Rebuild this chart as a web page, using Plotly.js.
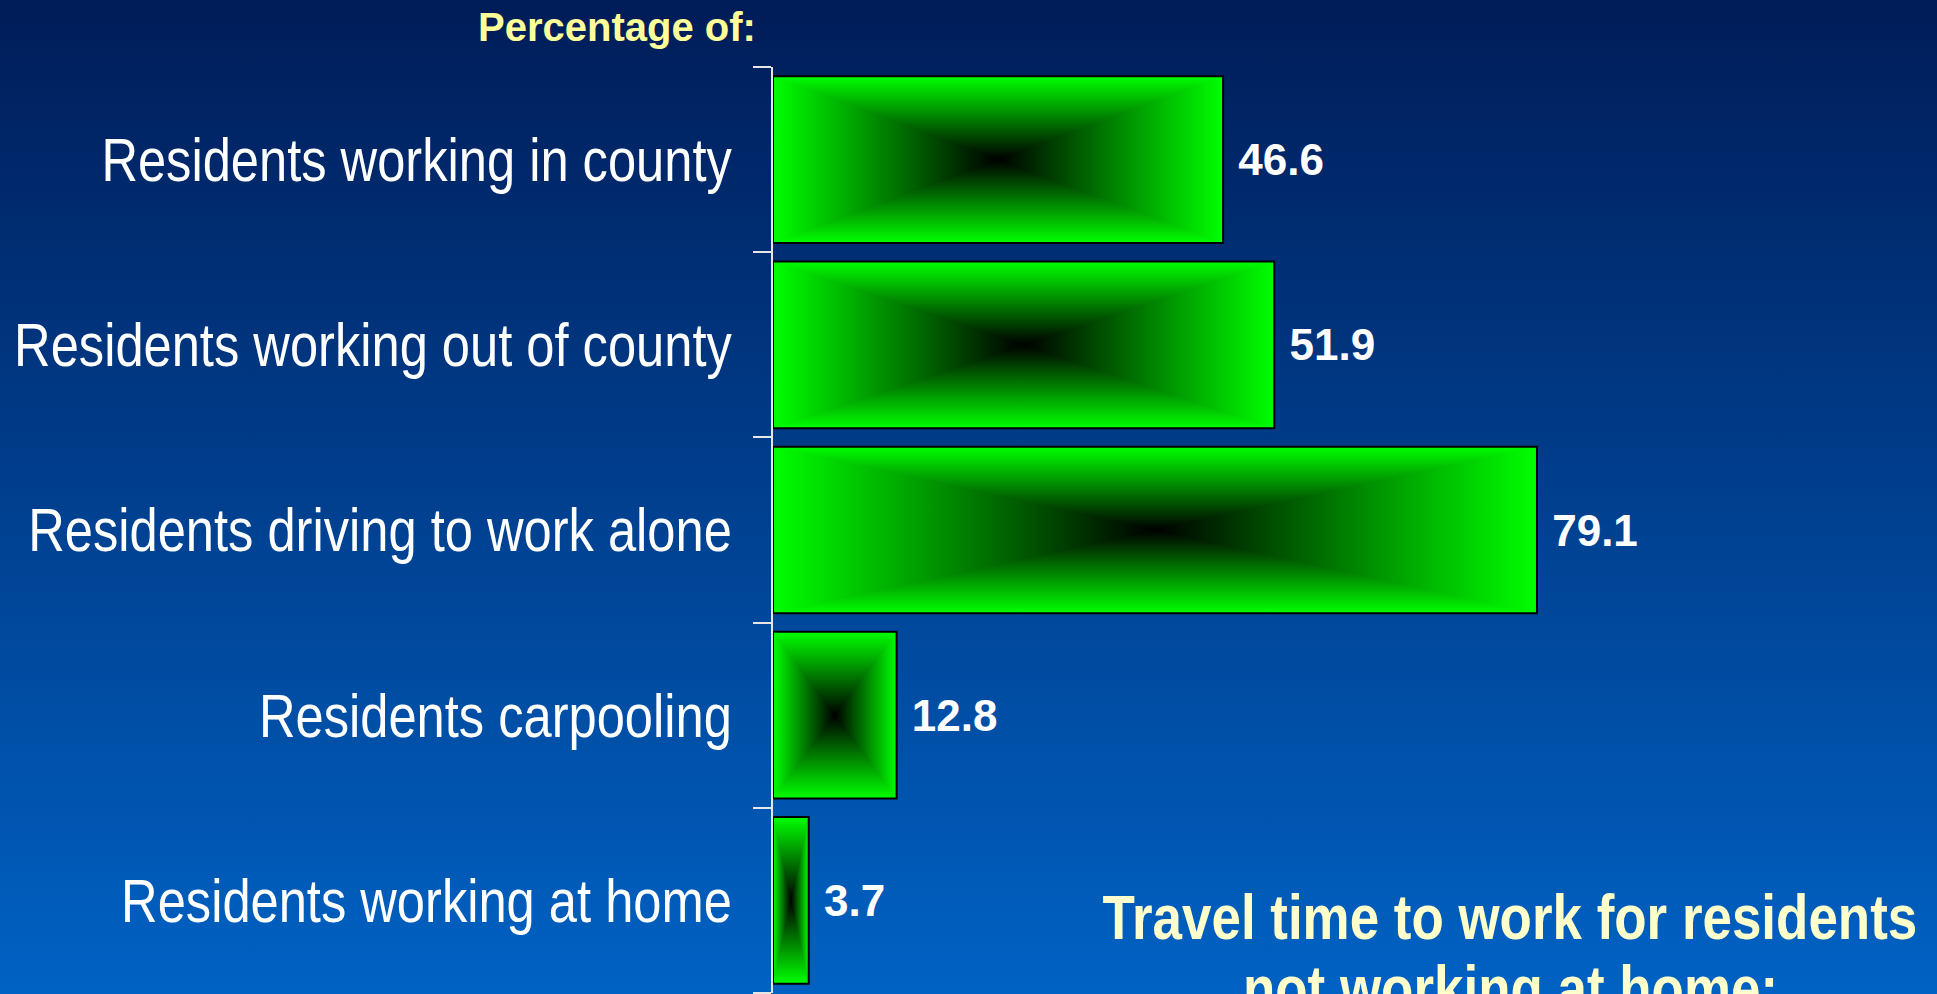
<!DOCTYPE html>
<html>
<head>
<meta charset="utf-8">
<script src="https://cdn.plot.ly/plotly-3.0.1.min.js"></script>
<style>
  html, body { margin: 0; padding: 0; }
  body { width: 1937px; height: 994px; overflow: hidden;
         background: linear-gradient(to bottom, #001c58 0%, #0062c4 100%); }
  #chart { width: 1937px; height: 994px; }
</style>
</head>
<body>
<div id="chart"></div>
<script>
// ---- data ----
const categories = [
  'Residents working in county',
  'Residents working out of county',
  'Residents driving to work alone',
  'Residents carpooling',
  'Residents working at home'
];
const values = [46.6, 51.9, 79.1, 12.8, 3.7];
const headerText = 'Percentage of:';
const footerLines = ['Travel time to work for residents', 'not working at home:'];

// ---- style params ----
const barWidth = 0.9;
const half = barWidth / 2;
const green = '#00ff00';
const dark = '#000000';
const positions = categories.map((c, i) => i);
const arial = '"Liberation Sans", Arial, sans-serif';
const labelSqueeze = 0.83;    // emulate Arial Narrow
const footerSqueeze = 0.84;

// rectangle "from centre" gradient built from the data:
// top/bottom half-rectangles first, then left/right triangles over them
const traces = [];
const base = {type: 'scatter', mode: 'none', fill: 'toself', hoverinfo: 'skip',
              showlegend: false, xaxis: 'x', yaxis: 'y'};
values.forEach((v, i) => {
  const y0 = i - half, y1 = i + half;
  traces.push(Object.assign({}, base, {
    x: [0, v, v, 0, 0], y: [y0, y0, i, i, y0],
    fillgradient: {type: 'vertical', start: y0, stop: i, colorscale: [[0, green], [1, dark]]}
  }));
  traces.push(Object.assign({}, base, {
    x: [0, v, v, 0, 0], y: [i, i, y1, y1, i],
    fillgradient: {type: 'vertical', start: i, stop: y1, colorscale: [[0, dark], [1, green]]}
  }));
});
values.forEach((v, i) => {
  const y0 = i - half, y1 = i + half, xc = v / 2;
  traces.push(Object.assign({}, base, {
    x: [0, xc, 0, 0], y: [y0, i, y1, y0],
    fillgradient: {type: 'horizontal', start: 0, stop: xc, colorscale: [[0, green], [1, dark]]}
  }));
  traces.push(Object.assign({}, base, {
    x: [v, xc, v, v], y: [y0, i, y1, y0],
    fillgradient: {type: 'horizontal', start: xc, stop: v, colorscale: [[0, dark], [1, green]]}
  }));
});

// outline bars + value labels (overlay axis, drawn on top)
traces.push({
  type: 'bar', orientation: 'h',
  x: values, y: positions, xaxis: 'x', yaxis: 'y2',
  width: barWidth,
  marker: {color: 'rgba(0,0,0,0)', line: {color: '#000000', width: 2}},
  text: values.map(v => '\u00a0' + v.toFixed(1)),
  textposition: 'outside', cliponaxis: false,
  textfont: {family: arial, size: 44, color: '#ffffff', weight: 'bold'},
  hoverinfo: 'skip', showlegend: false
});

const layout = {
  width: 1937, height: 994,
  margin: {l: 773, r: 5, t: 67, b: 1, pad: 0},
  paper_bgcolor: 'rgba(0,0,0,0)',
  plot_bgcolor: 'rgba(0,0,0,0)',
  showlegend: false,
  xaxis: {range: [0, 120], showgrid: false, zeroline: false, showline: false,
          showticklabels: false, ticks: '', fixedrange: true},
  yaxis: {range: [4.5, -0.5], tickmode: 'array', tickvals: positions, ticktext: categories,
          ticks: 'outside', ticklen: 18, tickcolor: 'rgba(0,0,0,0)',
          ticklabelstandoff: 10,
          tickfont: {family: arial, size: 61, color: '#ffffff'},
          showgrid: false, zeroline: false, showline: false, fixedrange: true},
  yaxis2: {overlaying: 'y', side: 'left', range: [4.5, -0.5], tickmode: 'array',
           tickvals: [-0.5, 0.5, 1.5, 2.5, 3.5, 4.5], showticklabels: false,
           ticks: 'outside', ticklen: 18, tickwidth: 2, tickcolor: '#e6e6e6',
           showline: true, linecolor: '#e6e6e6', linewidth: 2,
           showgrid: false, zeroline: false, fixedrange: true},
  annotations: [
    {text: headerText, xref: 'paper', yref: 'paper', x: -0.1346, y: 1.0432,
     xanchor: 'center', yanchor: 'middle', showarrow: false,
     font: {family: arial, size: 40, color: '#ffff99', weight: 'bold'}},
    {text: footerLines[0], xref: 'paper', yref: 'paper', x: 0.6359, y: (993 - 917) / 926,
     xanchor: 'center', yanchor: 'middle', showarrow: false,
     font: {family: arial, size: 63, color: '#ffffcc', weight: 'bold'}},
    {text: footerLines[1], xref: 'paper', yref: 'paper', x: 0.6359, y: (993 - 988) / 926,
     xanchor: 'center', yanchor: 'middle', showarrow: false,
     font: {family: arial, size: 63, color: '#ffffcc', weight: 'bold'}}
  ]
};

function squeeze(el, f) {
  const w = el.getComputedTextLength();
  el.setAttribute('textLength', (w * f).toFixed(1));
  el.setAttribute('lengthAdjust', 'spacingAndGlyphs');
}

Plotly.newPlot('chart', traces, layout, {displayModeBar: false, staticPlot: true}).then(gd => {
  gd.querySelectorAll('g.ytick text').forEach(el => squeeze(el, labelSqueeze));
  gd.querySelectorAll('g.annotation').forEach(g => {
    const idx = +g.getAttribute('data-index');
    if (idx >= 1) {
      g.querySelectorAll('text').forEach(el => squeeze(el, footerSqueeze));
      // shrink the annotation's background box to the squeezed text
      const rect = g.querySelector('rect.bg');
      if (rect) {
        const w = +rect.getAttribute('width');
        const nw = w * footerSqueeze;
        const x = +(rect.getAttribute('x') || 0);
        rect.setAttribute('x', (x + (w - nw) / 2).toFixed(1));
        rect.setAttribute('width', nw.toFixed(1));
      }
    }
  });
});
</script>
</body>
</html>
